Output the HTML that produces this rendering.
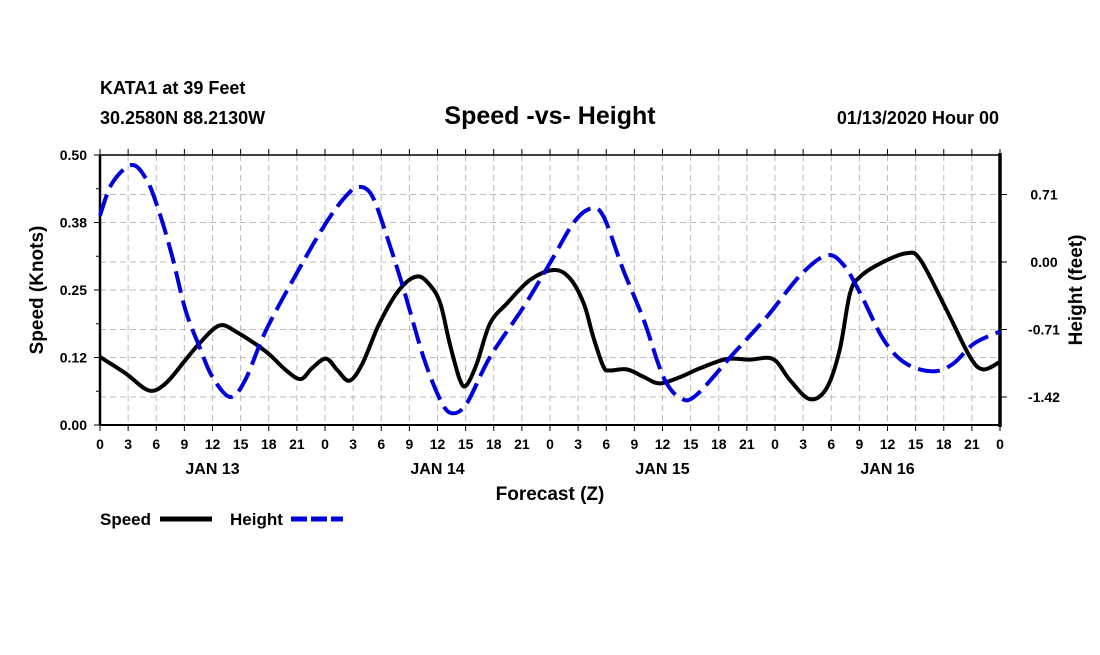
<!DOCTYPE html>
<html><head><meta charset="utf-8"><style>
body{margin:0;background:#fff;}
svg text{font-family:"Liberation Sans",sans-serif;font-weight:bold;fill:#000;}
</style></head><body>
<svg id="c" width="1100" height="650" xmlns="http://www.w3.org/2000/svg">
<text x="100" y="94" font-size="18">KATA1 at 39 Feet</text>
<text x="100" y="124" font-size="18">30.2580N 88.2130W</text>
<text x="550" y="124" font-size="25" text-anchor="middle">Speed -vs- Height</text>
<text x="999" y="124" font-size="18" text-anchor="end">01/13/2020 Hour 00</text>
<g id="grid"></g>
<g id="axes"></g>
<g id="series"></g>
<text transform="translate(43,290) rotate(-90)" font-size="19" text-anchor="middle">Speed (Knots)</text>
<text transform="translate(1082,290) rotate(-90)" font-size="19" text-anchor="middle">Height (feet)</text>
<text x="550" y="500" font-size="19" text-anchor="middle">Forecast (Z)</text>
<g>
<text x="100" y="525" font-size="17">Speed</text>
<line x1="160" y1="519" x2="212" y2="519" stroke="#000" stroke-width="5"/>
<text x="230" y="525" font-size="17">Height</text>
<line x1="291" y1="519" x2="343" y2="519" stroke="#0000dd" stroke-width="5" stroke-dasharray="16,4"/>
</g>
</svg>
<script>
const speedHours=[0,2.7,5.2,7.0,9.1,10.6,12.7,14.5,17.7,19.8,21.4,22.6,24.1,25.3,26.6,28,29.8,31.9,33.8,35.2,36.3,37.3,38.4,39.1,40.2,41.6,43.4,45.9,48.4,50.1,51.6,52.6,53.7,54.4,56.2,58.0,59.7,61.9,64,66.8,69.3,71.8,73.6,75.7,77.5,78.9,80,81.1,83.2,86.0,87.5,90.3,92.8,94.2,96];
const speedValues=[0.126,0.096,0.064,0.077,0.120,0.151,0.184,0.173,0.136,0.102,0.085,0.105,0.123,0.102,0.082,0.114,0.188,0.25,0.275,0.259,0.225,0.151,0.083,0.074,0.114,0.188,0.225,0.269,0.287,0.272,0.225,0.164,0.108,0.101,0.103,0.089,0.077,0.089,0.105,0.122,0.121,0.122,0.083,0.048,0.068,0.139,0.244,0.275,0.299,0.318,0.306,0.213,0.126,0.103,0.117];
const heightHours=[0,1.3,3.4,5.0,6.3,7.7,9.1,10.6,12.0,13.9,15.5,17.7,21.2,24.1,26.2,27.6,29.0,30.5,32.4,34.5,36.3,37.5,39.1,41.6,45.2,48,50.5,52.3,53.7,55.8,58.0,60.1,61.9,63.6,67.6,71.1,74.7,77.5,79.3,81.1,83.6,86.0,88.9,91.0,93.2,96];
const heightValues=[0.49,0.83,1.02,0.86,0.53,0.06,-0.50,-0.89,-1.21,-1.42,-1.24,-0.72,-0.08,0.41,0.69,0.79,0.70,0.30,-0.29,-1.0,-1.45,-1.59,-1.49,-1.0,-0.47,-0.01,0.41,0.56,0.48,-0.08,-0.61,-1.21,-1.43,-1.40,-0.96,-0.58,-0.14,0.07,-0.03,-0.33,-0.82,-1.07,-1.15,-1.07,-0.86,-0.73];
const xTickLabels=["0","3","6","9","12","15","18","21"];
const dayLabels=["JAN 13","JAN 14","JAN 15","JAN 16"];
const leftTicks=[0,0.125,0.25,0.375,0.5];
const leftTickLabels=["0.00","0.12","0.25","0.38","0.50"];
const rightTicks=[0.71,0,-0.71,-1.42];
const rightTickLabels=["0.71","0.00","-0.71","-1.42"];

const X0=100,X1=1000,Y0=155,Y1=425;
const xs=h=>X0+h*(X1-X0)/96;
const ysL=v=>Y1-v*(Y1-Y0)/0.5;
const ysR=v=>262-v*(67.5/0.71);
const NS="http://www.w3.org/2000/svg";
function mk(parent,tag,attrs){const e=document.createElementNS(NS,tag);for(const k in attrs)e.setAttribute(k,attrs[k]);document.getElementById(parent).appendChild(e);return e;}
for(let h=3;h<96;h+=3){const l=mk('grid','line',{x1:xs(h),x2:xs(h),y1:Y0,y2:Y1,stroke:'#bbb','stroke-dasharray':'6,4'});

}
[0.125,0.25,0.375].forEach(v=>{const l=mk('grid','line',{x1:X0,x2:X1,y1:ysL(v),y2:ysL(v),stroke:'#bbb','stroke-dasharray':'6,4'});

});
rightTicks.forEach(v=>{const l=mk('grid','line',{x1:X0,x2:X1,y1:ysR(v),y2:ysR(v),stroke:'#bbb','stroke-dasharray':'6,4'});

});
mk('axes','line',{x1:X0,x2:X0,y1:Y0,y2:Y1,stroke:'#000','stroke-width':2.5});
mk('axes','line',{x1:X1,x2:X1,y1:Y0-2,y2:Y1+2,stroke:'#000','stroke-width':3.5});
mk('axes','line',{x1:X0,x2:X1,y1:Y0,y2:Y0,stroke:'#000','stroke-width':1.5});
mk('axes','line',{x1:X0,x2:X1,y1:Y1,y2:Y1,stroke:'#000','stroke-width':2});
for(let i=0;i<=32;i++){const h=i*3;
mk('axes','line',{x1:xs(h),x2:xs(h),y1:Y0,y2:Y0-6,stroke:'#000','stroke-width':1});
mk('axes','line',{x1:xs(h),x2:xs(h),y1:Y1,y2:Y1+6,stroke:'#000','stroke-width':1});
const t=mk('axes','text',{x:xs(h),y:449,'font-size':14,'text-anchor':'middle'});t.textContent=xTickLabels[i%8];

}
dayLabels.forEach((d,i)=>{const t=mk('axes','text',{x:xs(12+24*i),y:474,'font-size':16,'text-anchor':'middle'});t.textContent=d;

});
for(let v=0;v<=0.5001;v+=0.0625){mk('axes','line',{x1:X0-(Math.abs(v*8-Math.round(v*8))<1e-6?6:4),x2:X0,y1:ysL(v),y2:ysL(v),stroke:'#000'});}
leftTicks.forEach((v,i)=>{const t=mk('axes','text',{x:87,y:ysL(v)+5,'font-size':14,'text-anchor':'end'});t.textContent=leftTickLabels[i];

});
rightTicks.forEach((v,i)=>{mk('axes','line',{x1:X1,x2:X1+7,y1:ysR(v),y2:ysR(v),stroke:'#000'});
const t=mk('axes','text',{x:1044,y:ysR(v)+5,'font-size':14,'text-anchor':'middle'});t.textContent=rightTickLabels[i];

});
function path(hs,vs,ys){const p=hs.map((h,i)=>[xs(h),ys(vs[i])]);let d='M'+p[0][0]+','+p[0][1];
for(let i=0;i<p.length-1;i++){const a=p[Math.max(0,i-1)],b=p[i],c=p[i+1],e=p[Math.min(p.length-1,i+2)];
const c1=[b[0]+(c[0]-a[0])/6,b[1]+(c[1]-a[1])/6],c2=[c[0]-(e[0]-b[0])/6,c[1]-(e[1]-b[1])/6];
d+=` C${c1[0]},${c1[1]} ${c2[0]},${c2[1]} ${c[0]},${c[1]}`;}return d;}
const sp=mk('series','path',{d:path(speedHours,speedValues,ysL),fill:'none',stroke:'#000','stroke-width':4});


const hp=mk('series','path',{d:path(heightHours,heightValues,ysR),fill:'none',stroke:'#0000dd','stroke-width':4,'stroke-dasharray':'22,8'});


</script>
</body></html>
